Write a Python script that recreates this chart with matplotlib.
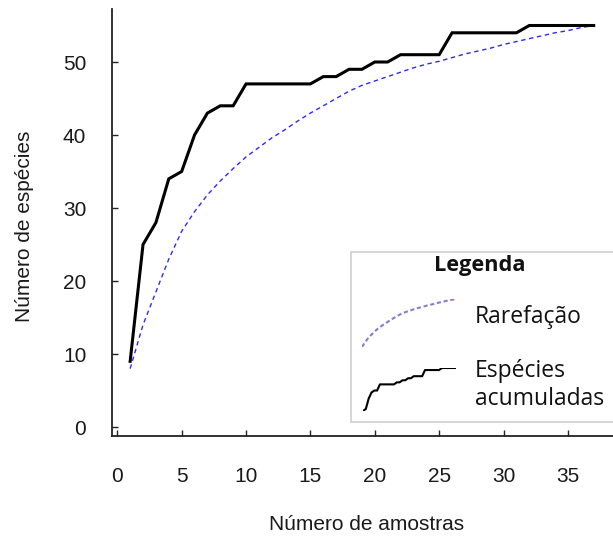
import matplotlib
matplotlib.use("Agg")
import matplotlib.pyplot as plt
from matplotlib.patches import Rectangle

# ---- data ----
amostras = list(range(1, 38))
especies_acumuladas = [9, 25, 28, 34, 35, 40, 43, 44, 44, 47,
                       47, 47, 47, 47, 47, 48, 48, 49, 49, 50,
                       50, 51, 51, 51, 51, 54, 54, 54, 54, 54,
                       54, 55, 55, 55, 55, 55, 55]
rarefacao = [8, 14, 18.5, 23, 26.8, 29.5, 31.8, 33.7, 35.4, 37,
             38.3, 39.6, 40.7, 41.9, 43, 44, 45, 46, 46.8, 47.4,
             48, 48.6, 49.2, 49.7, 50.1, 50.6, 51.1, 51.5, 51.9, 52.4,
             52.8, 53.2, 53.6, 54.0, 54.3, 54.7, 55]
xticks = [0, 5, 10, 15, 20, 25, 30, 35]
yticks = [0, 10, 20, 30, 40, 50]
xlabel = "Número de amostras"
ylabel = "Número de espécies"
legend_title = "Legenda"
legend_labels = ["Rarefação", "Espécies\nacumuladas"]

W, H = 613, 539
fig = plt.figure(figsize=(W / 100, H / 100), dpi=100)

def fx(px):
    return px / W

def fy(py):
    return (H - py) / H

ax = fig.add_axes([fx(112), fy(436), fx(613) - fx(112), fy(9) - fy(436)])
ax.plot(amostras, rarefacao, color="#2a2aff", lw=1.0, dashes=(3.2, 2.6))
ax.plot(amostras, especies_acumuladas, color="black", lw=2.2, solid_joinstyle="miter")

ax.set_xlim(-0.41, 38.5)
ax.set_ylim(-1.23, 57.26)
ax.set_xticks(xticks)
ax.set_yticks(yticks)
for s in ["top", "right"]:
    ax.spines[s].set_visible(False)
for s in ["left", "bottom"]:
    ax.spines[s].set_linewidth(1.3)
    ax.spines[s].set_color("#222222")

ax.tick_params(axis="both", direction="in", length=4, width=1, color="#222222")
ax.tick_params(axis="x", pad=22)
ax.tick_params(axis="y", pad=18.5)
for lab in ax.get_xticklabels() + ax.get_yticklabels():
    lab.set_fontfamily("Liberation Sans")
    lab.set_fontsize(15)
    lab.set_color("#1a1a1a")

ax.set_xlabel(xlabel, fontfamily="Liberation Sans", fontsize=15, color="#1a1a1a")
ax.xaxis.set_label_coords((367 - 112) / 501, (436 - 525) / 427)
ax.xaxis.label.set_va("center")
ax.set_ylabel(ylabel, fontfamily="Liberation Sans", fontsize=15, color="#1a1a1a")
ax.yaxis.set_label_coords((24 - 112) / 501, (436 - 226) / 427)
ax.yaxis.label.set_va("center")

# ---- custom legend box ----
rect = Rectangle((fx(351), fy(422)), fx(640) - fx(351), fy(252) - fy(422),
                 transform=fig.transFigure, facecolor="white",
                 edgecolor="#cfcfcf", lw=1.2, zorder=5)
fig.patches.append(rect)

lfont = ["Open Sans", "DejaVu Sans"]
fig.text(fx(480), fy(270.5), legend_title, ha="center", va="baseline",
         fontfamily=lfont, fontsize=15.7, fontweight="bold", color="#111111", zorder=6)
fig.text(fx(475), fy(323), legend_labels[0], ha="left", va="baseline",
         fontfamily=lfont, fontsize=16.5, color="#111111", zorder=6)
esp, acum = legend_labels[1].split("\n")
fig.text(fx(475), fy(377), esp, ha="left", va="baseline",
         fontfamily=lfont, fontsize=16.5, color="#111111", zorder=6)
fig.text(fx(475), fy(405), acum, ha="left", va="baseline",
         fontfamily=lfont, fontsize=16.5, color="#111111", zorder=6)

# legend icons drawn from the data
ic1 = fig.add_axes([fx(362), fy(347), fx(456) - fx(362), fy(299) - fy(347)], zorder=7)
ic1.plot(amostras[4:], rarefacao[4:], color="#8080d0", lw=1.5, dashes=(2, 1.3))
ic1.margins(0)
ic1.axis("off")

ic2 = fig.add_axes([fx(363), fy(411), fx(456) - fx(363), fy(368) - fy(411)], zorder=7)
ic2.plot(amostras[3:], especies_acumuladas[3:], color="black", lw=1.5)
ic2.margins(0)
ic2.axis("off")

fig.savefig("out.png", dpi=100)
